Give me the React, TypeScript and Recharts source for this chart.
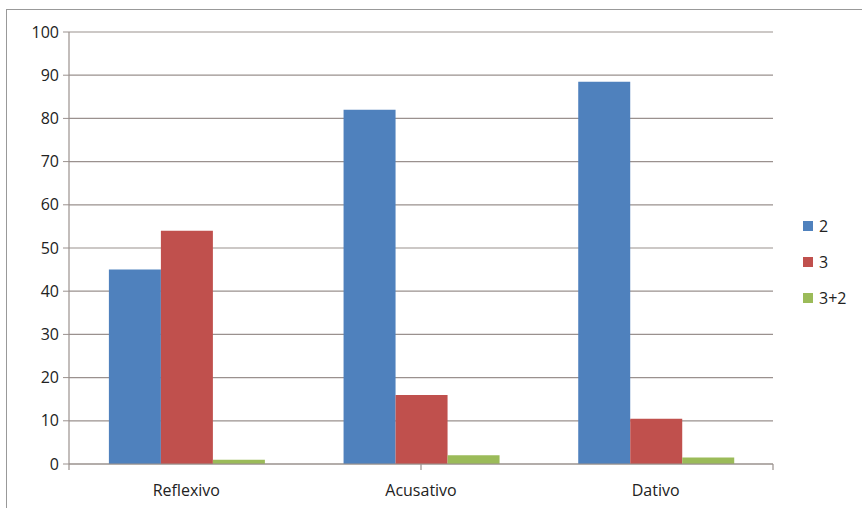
import React from 'react';
import { BarChart, Bar, XAxis, YAxis, CartesianGrid, Legend } from 'recharts';

const categories = ['Reflexivo', 'Acusativo', 'Dativo'];
const series2 = [45, 82, 88.5];
const series3 = [54, 16, 10.5];
const series32 = [1, 2, 1.5];
const yTicks = [0, 10, 20, 30, 40, 50, 60, 70, 80, 90, 100];
const edgeTicks = [0, 1, 2, 3];

const SERIES = [
  { key: 's2', name: '2', color: '#4F81BD' },
  { key: 's3', name: '3', color: '#C0504D' },
  { key: 's32', name: '3+2', color: '#9BBB59' },
];

const data = categories.map((c, i) => ({
  cat: c,
  s2: series2[i],
  s3: series3[i],
  s32: series32[i],
}));

const GRID = '#9a918e';
const FONT = '"Open Sans", sans-serif';

const LegendBox = () => (
  <div style={{ fontFamily: FONT, fontSize: 16, color: '#222' }}>
    {SERIES.map((s) => (
      <div key={s.key} style={{ display: 'flex', alignItems: 'center', height: 36 }}>
        <span style={{ width: 10, height: 10, background: s.color, marginRight: 6 }} />
        <span>{s.name}</span>
      </div>
    ))}
  </div>
);

export default function App() {
  return (
    <div style={{ position: 'relative', width: 862, height: 508, background: '#fff' }}>
      <style>{`body{margin:0}`}</style>
      <div
        style={{
          position: 'absolute',
          left: 6,
          top: 9,
          width: 856,
          height: 499,
          borderTop: '1px solid #999',
          borderLeft: '1px solid #999',
          boxSizing: 'border-box',
        }}
      >
        <BarChart
          width={855}
          height={498}
          data={data}
          margin={{ top: 22, right: 29, left: 0, bottom: 0 }}
          barCategoryGap="17%"
          barGap={0}
        >
          <CartesianGrid xAxisId="b" vertical={false} stroke={GRID} strokeWidth={1.2} />
          {/* category boundary ticks */}
          <XAxis
            xAxisId="a"
            type="number"
            domain={[0, 3]}
            allowDataOverflow
            ticks={edgeTicks}
            interval={0}
            tick={() => <g />}
            tickSize={6}
            stroke={GRID}
            height={1}
            axisLine={{ stroke: GRID, strokeWidth: 1.2 }}
            tickLine={{ stroke: GRID, strokeWidth: 1.2 }}
          />
          <XAxis
            xAxisId="b"
            dataKey="cat"
            tickLine={false}
            axisLine={false}
            height={43}
            tick={{ fontSize: 16, fill: '#222', fontFamily: FONT }}
            tickMargin={14}
          />
          <YAxis
            domain={[0, 100]}
            ticks={yTicks}
            width={62}
            tickSize={6}
            stroke={GRID}
            axisLine={{ stroke: GRID, strokeWidth: 1.2 }}
            tick={{ fontSize: 16, fill: '#222', fontFamily: FONT }}
            tickMargin={4}
          />
          <Legend
            layout="horizontal"
            verticalAlign="middle"
            align="right"
            content={() => <LegendBox />}
            wrapperStyle={{ left: 796, top: 198, width: 60 }}
          />
          {SERIES.map((s) => (
            <Bar
              key={s.key}
              xAxisId="b"
              dataKey={s.key}
              name={s.name}
              fill={s.color}
              isAnimationActive={false}
            />
          ))}
        </BarChart>
      </div>
    </div>
  );
}
